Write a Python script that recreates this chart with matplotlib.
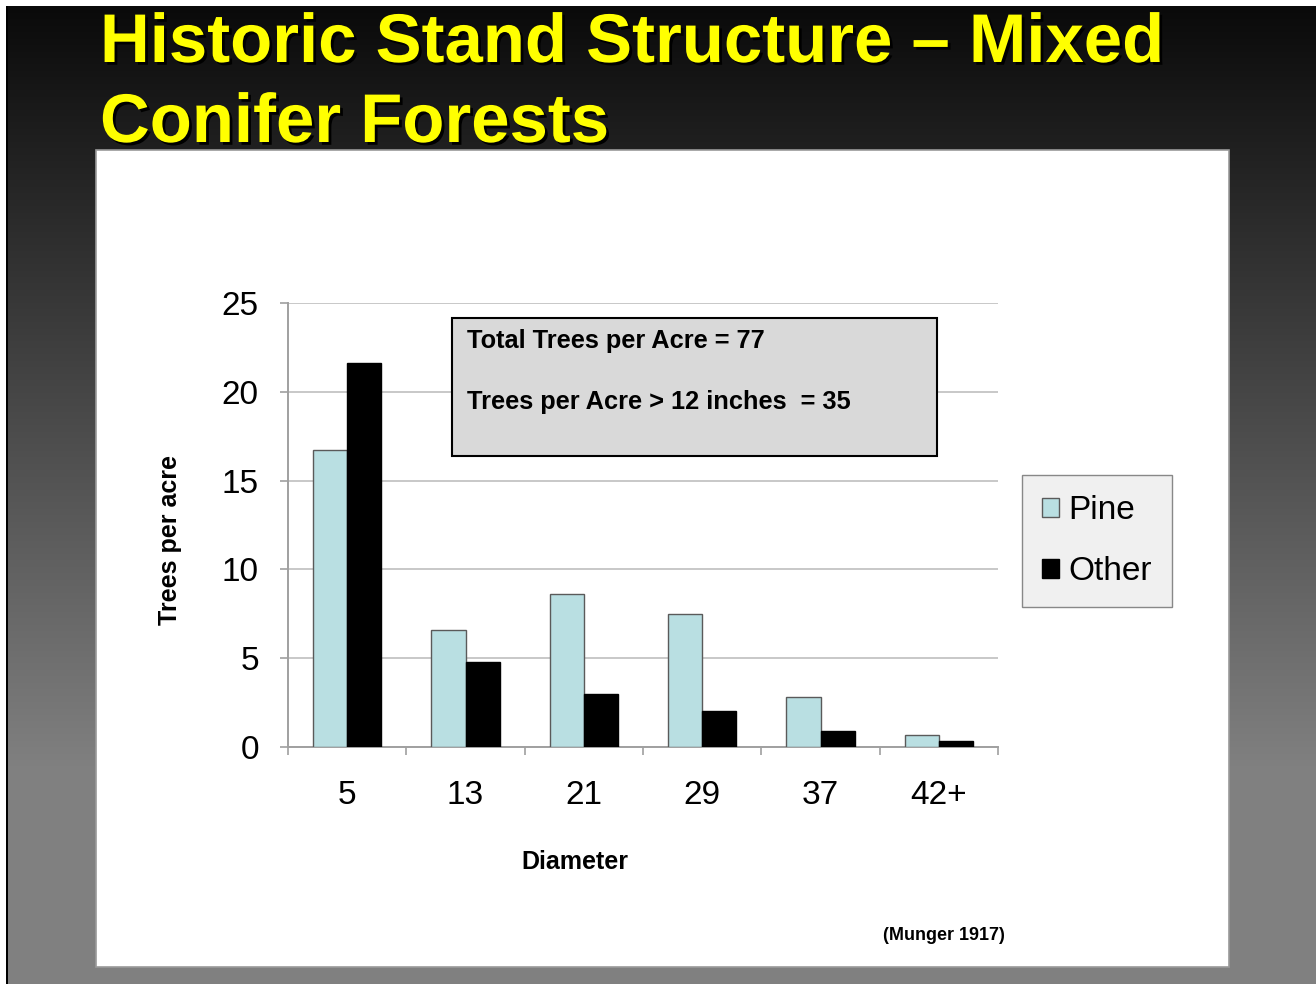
import numpy as np
import matplotlib.pyplot as plt
import matplotlib.patheffects as pe
from matplotlib.patches import Rectangle

# values (trees per acre by diameter class)
diameters = ['5', '13', '21', '29', '37', '42+']
pine = [16.7, 6.6, 8.6, 7.5, 2.8, 0.7]
other = [21.6, 4.8, 3.0, 2.0, 0.9, 0.35]
y_ticks = [0, 5, 10, 15, 20, 25]
box_lines = ['Total Trees per Acre = 77', 'Trees per Acre > 12 inches  = 35']

W, H = 1316, 984
plt.rcParams['font.family'] = ['Liberation Sans', 'DejaVu Sans']


def px(x, y):
    # pixel position (from top left) -> figure fraction
    return x / W, 1 - y / H


fig = plt.figure(figsize=(W / 100, H / 100), dpi=100)

# slide background: dark to grey gradient
bg = fig.add_axes([0, 0, 1, 1], zorder=-10)
rows = np.arange(H)
shade = np.clip(10 + (rows - 6) * 118 / 760, 10, 128) / 255
img = np.dstack([np.repeat(shade[:, None], W, axis=1)] * 3)
img[:6, :, :] = 1
img[:, :6, :] = 1
img[6:, 6:8, :] = 0
bg.imshow(img, aspect='auto', interpolation='nearest')
bg.set_axis_off()

# white chart panel
fig.add_artist(Rectangle(px(96, 967), 1133 / W, 817 / H, transform=fig.transFigure,
                         facecolor='white', edgecolor='#9a9a9a', lw=1.2, zorder=-5))

# title
for line, base in [('Historic Stand Structure \u2013 Mixed', 62), ('Conifer Forests', 142)]:
    fig.text(*px(100, base), line, fontsize=49.6, fontweight='bold', color='#ffff00',
             va='baseline', ha='left',
             path_effects=[pe.withSimplePatchShadow(offset=(2, -2), shadow_rgbFace='black', alpha=1)])

# chart
left, bottom = px(288, 747)
ax = fig.add_axes([left, bottom, 710 / W, 444 / H])
ax.set_facecolor('white')

x = np.arange(len(diameters))
w = 0.29
b1 = ax.bar(x - w / 2, pine, w, color='#b9dfe2', edgecolor='#5a5a5a', lw=1, zorder=3)
b2 = ax.bar(x + w / 2, other, w, color='black', edgecolor='black', lw=1, zorder=3)

ax.set_xlim(-0.5, len(diameters) - 0.5)
ax.set_ylim(0, 25)
ax.set_yticks(y_ticks)
ax.set_xticks(x)
ax.set_xticklabels(diameters)
ax.set_xticks(np.arange(len(diameters) + 1) - 0.5, minor=True)
ax.tick_params(axis='x', which='major', length=0, pad=24, labelsize=24)
ax.tick_params(axis='x', which='minor', length=6, width=1.2, color='#a0a0a0', direction='out')
ax.tick_params(axis='y', length=6, width=1.2, color='#a0a0a0', pad=15, labelsize=24)
ax.grid(axis='y', color='#c8c8c8', lw=1.4, zorder=0)
ax.set_axisbelow(True)
for s in ['top', 'right']:
    ax.spines[s].set_visible(False)
for s in ['left', 'bottom']:
    ax.spines[s].set_color('#a0a0a0')
    ax.spines[s].set_linewidth(1.4)

# summary box
ax.add_patch(Rectangle((0.231, 0.655), 0.683, 0.311, transform=ax.transAxes,
                       facecolor='#d9d9d9', edgecolor='black', lw=1.5, zorder=4))
fig.text(*px(467, 348), box_lines[0], fontsize=18.3, fontweight='bold', va='baseline', zorder=6)
fig.text(*px(467, 409), box_lines[1], fontsize=18.3, fontweight='bold', va='baseline', zorder=6)

# axis titles and source
fig.text(*px(170, 540), 'Trees per acre', rotation=90, fontsize=18, fontweight='bold',
         ha='center', va='center')
fig.text(*px(575, 862), 'Diameter', fontsize=18, fontweight='bold', ha='center', va='center')
fig.text(*px(944, 935), '(Munger 1917)', fontsize=13, fontweight='bold', ha='center', va='center')

fig.legend([b1, b2], ['Pine', 'Other'], loc='upper left', bbox_to_anchor=px(1022, 475),
           fontsize=24, frameon=True, fancybox=False, facecolor='#f0f0f0',
           edgecolor='#888888', framealpha=1, borderpad=0.6, labelspacing=0.9,
           handlelength=0.5, handleheight=0.5, handletextpad=0.3, borderaxespad=0)

fig.savefig('out.png', dpi=100)
